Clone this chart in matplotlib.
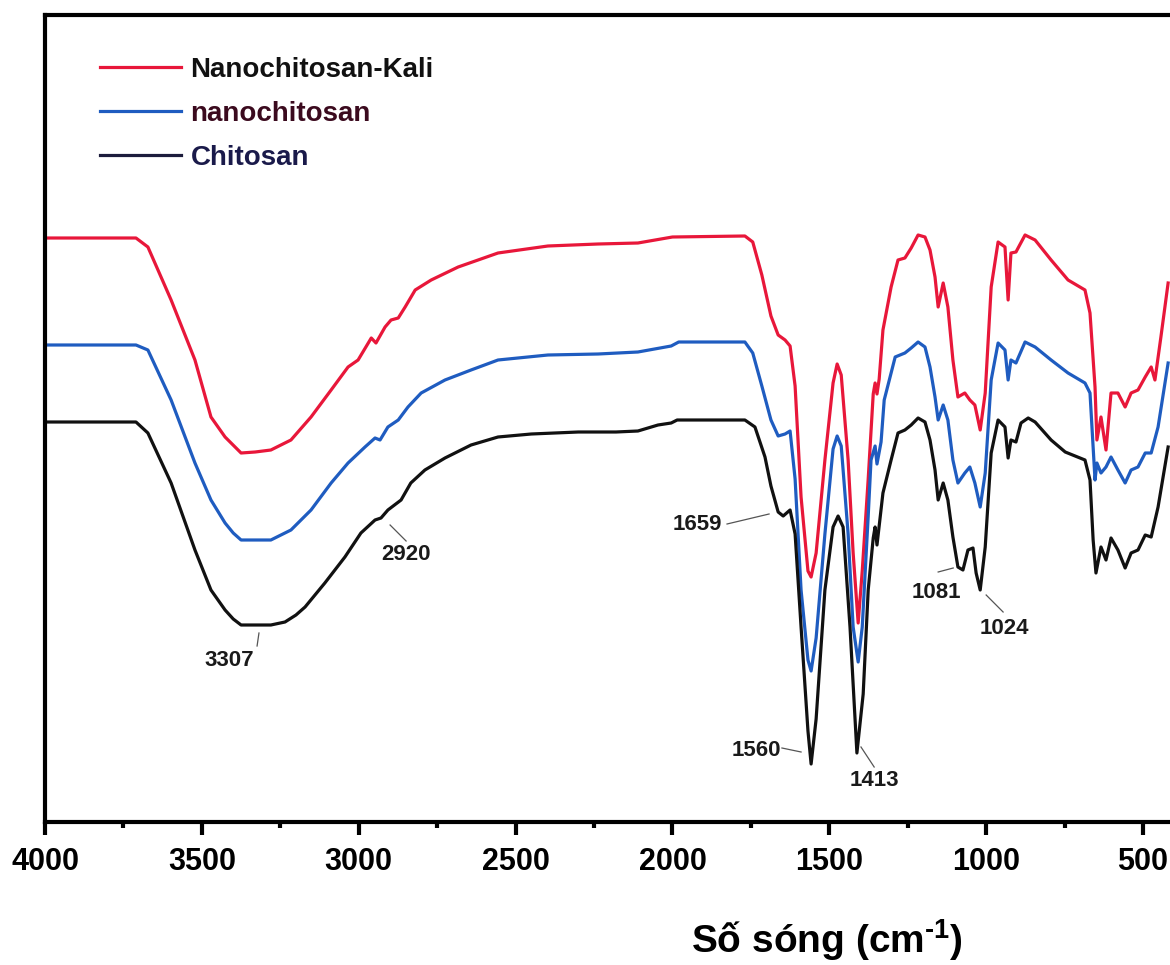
import numpy as np
import matplotlib
matplotlib.use("Agg")
import matplotlib.pyplot as plt

plt.rcParams['font.family'] = ['Liberation Sans', 'DejaVu Sans']
plt.rcParams['font.weight'] = 'bold'
plt.rcParams['mathtext.fontset'] = 'custom'
plt.rcParams['mathtext.rm'] = 'Liberation Sans:bold'
plt.rcParams['mathtext.default'] = 'rm'

# Chitosan (black)
wn_chitosan = [4000, 3710, 3672, 3598, 3522, 3471, 3426, 3400, 3375, 3280,
               3235, 3200, 3171, 3108, 3044, 2993, 2948, 2929, 2907, 2865,
               2834, 2789, 2725, 2642, 2556, 2450, 2300, 2180, 2110, 2046,
               2004, 1985, 1973, 1769, 1737, 1705, 1686, 1663, 1647, 1625,
               1609, 1590, 1568, 1558, 1542, 1514, 1488, 1472, 1456, 1434,
               1412, 1392, 1376, 1360, 1354, 1348, 1329, 1303, 1281, 1259,
               1239, 1217, 1195, 1179, 1163, 1153, 1137, 1122, 1106, 1090,
               1074, 1058, 1042, 1032, 1019, 1003, 984, 962, 940, 930,
               921, 905, 889, 866, 844, 793, 748, 685, 669, 659,
               650, 634, 618, 602, 580, 557, 538, 516, 493, 474,
               452, 420]
t_chitosan = [40.0, 40.0, 38.9, 33.9, 27.2, 23.2, 21.2, 20.3, 19.7, 19.7,
              20.0, 20.7, 21.5, 23.9, 26.5, 28.9, 30.2, 30.4, 31.2, 32.2,
              33.9, 35.2, 36.4, 37.7, 38.5, 38.8, 39.0, 39.0, 39.1, 39.7,
              39.9, 40.2, 40.2, 40.2, 39.5, 36.5, 33.6, 31.0, 30.6, 31.2,
              28.8, 19.5, 9.1, 5.8, 10.3, 23.2, 29.5, 30.6, 29.5, 19.5,
              6.9, 12.8, 23.2, 28.4, 29.5, 27.7, 32.9, 36.2, 38.9, 39.2,
              39.7, 40.4, 40.0, 38.2, 35.2, 32.2, 33.9, 32.2, 28.5, 25.5,
              25.2, 27.2, 27.4, 24.9, 23.2, 27.5, 36.9, 40.2, 39.5, 36.4,
              38.2, 38.0, 39.9, 40.4, 40.0, 38.2, 37.0, 36.2, 34.2, 28.2,
              24.9, 27.5, 26.2, 28.4, 27.2, 25.4, 26.9, 27.2, 28.7, 28.5,
              31.5, 37.5]

# nanochitosan (blue)
wn_nano = [4000, 3710, 3672, 3598, 3522, 3471, 3426, 3400, 3375, 3280,
           3216, 3152, 3088, 3034, 2980, 2948, 2932, 2907, 2874, 2843,
           2801, 2725, 2642, 2556, 2397, 2237, 2110, 2004, 1980, 1769,
           1744, 1715, 1686, 1663, 1641, 1625, 1609, 1590, 1568, 1558,
           1542, 1514, 1488, 1475, 1462, 1440, 1424, 1408, 1395, 1376,
           1367, 1354, 1348, 1335, 1325, 1303, 1290, 1259, 1239, 1217,
           1195, 1179, 1163, 1153, 1137, 1122, 1106, 1090, 1068, 1052,
           1036, 1019, 1003, 984, 962, 940, 930, 921, 905, 876,
           844, 793, 739, 685, 669, 653, 647, 634, 618, 602,
           580, 557, 538, 516, 493, 474, 452, 420]
t_nano = [47.7, 47.7, 47.2, 42.2, 35.9, 32.2, 29.9, 28.9, 28.2, 28.2,
          29.2, 31.2, 33.9, 35.9, 37.5, 38.4, 38.2, 39.5, 40.2, 41.5,
          42.9, 44.2, 45.2, 46.2, 46.7, 46.8, 47.0, 47.6, 48.0, 48.0,
          46.9, 43.6, 40.2, 38.6, 38.8, 39.1, 34.3, 23.2, 16.2, 15.1,
          18.4, 28.8, 37.3, 38.6, 37.6, 28.8, 19.5, 16.0, 19.5, 30.6,
          36.2, 37.6, 35.8, 38.0, 42.2, 44.9, 46.5, 46.9, 47.4, 48.0,
          47.5, 45.5, 42.5, 40.2, 41.7, 40.2, 36.2, 33.9, 34.9, 35.5,
          33.9, 31.5, 34.9, 44.2, 47.9, 47.2, 44.2, 46.2, 45.9, 48.0,
          47.5, 46.2, 44.9, 43.9, 42.9, 34.2, 35.9, 34.9, 35.5, 36.5,
          35.2, 33.9, 35.2, 35.5, 36.9, 36.9, 39.5, 45.9]

# Nanochitosan-Kali (red)
wn_kali = [4000, 3710, 3672, 3598, 3522, 3471, 3426, 3375, 3330, 3280,
           3216, 3152, 3088, 3034, 3002, 2960, 2945, 2916, 2897, 2874,
           2852, 2820, 2769, 2683, 2556, 2397, 2237, 2110, 2000, 1769,
           1744, 1715, 1686, 1663, 1641, 1625, 1609, 1590, 1568, 1558,
           1542, 1514, 1488, 1475, 1462, 1440, 1424, 1408, 1395, 1376,
           1360, 1354, 1348, 1341, 1329, 1303, 1281, 1259, 1239, 1217,
           1195, 1179, 1163, 1153, 1137, 1122, 1106, 1090, 1068, 1052,
           1036, 1019, 1003, 984, 962, 940, 930, 921, 905, 876,
           844, 793, 739, 685, 669, 653, 647, 634, 618, 602,
           580, 557, 538, 516, 493, 474, 462, 443, 420]
t_kali = [58.4, 58.4, 57.5, 52.2, 46.2, 40.5, 38.5, 36.9, 37.0, 37.2,
          38.2, 40.5, 43.2, 45.5, 46.2, 48.4, 47.9, 49.5, 50.2, 50.4,
          51.5, 53.2, 54.2, 55.5, 56.9, 57.6, 57.8, 57.9, 58.5, 58.6,
          58.0, 54.7, 50.6, 48.7, 48.2, 47.6, 43.6, 32.5, 25.1, 24.5,
          26.9, 36.2, 43.9, 45.8, 44.7, 36.2, 26.9, 19.9, 25.1, 34.3,
          42.8, 43.9, 42.8, 44.3, 49.2, 53.5, 56.2, 56.4, 57.4, 58.7,
          58.5, 57.2, 54.5, 51.5, 53.9, 51.5, 46.2, 42.5, 42.9, 42.2,
          41.7, 39.2, 42.9, 53.5, 58.0, 57.5, 52.2, 56.9, 57.0, 58.7,
          58.2, 56.2, 54.2, 53.2, 50.9, 43.5, 38.2, 40.5, 37.2, 42.9,
          42.9, 41.5, 42.9, 43.2, 44.5, 45.5, 44.2, 48.5, 53.9]

# peak labels: text, text position, leader line (start, end)
peak_labels = ["3307", "2920", "1659", "1560", "1413", "1081", "1024"]
peak_text_xy = [(3413, 16.2), (2849, 26.7), (1842, 29.7), (1654, 7.2),
                (1357, 4.1), (1160, 23.0), (943, 19.4)]
peak_text_ha = ["center", "center", "right", "right", "center", "center", "center"]
peak_leaders = [((3318, 18.9), (3324, 17.6)), ((2900, 29.7), (2849, 28.1)),
                ((1826, 29.8), (1692, 30.8)), ((1651, 7.4), (1590, 7.0)),
                ((1399, 7.5), (1357, 5.5)), ((1153, 25.0), (1105, 25.4)),
                ((1000, 22.7), (946, 21.0))]

fig = plt.figure(figsize=(11.7, 9.65), dpi=100)
ax = fig.add_axes([45/1170, 1 - 822/965, 1 - 45/1170, (822 - 15)/965])

l_kali, = ax.plot(wn_kali, t_kali, color="#e8173a", lw=2.3, label="Nanochitosan-Kali")
l_nano, = ax.plot(wn_nano, t_nano, color="#1f5cc0", lw=2.3, label="nanochitosan")
l_ch, = ax.plot(wn_chitosan, t_chitosan, color="#111111", lw=2.3, label="Chitosan")

for lab, (tx, ty), ha, (p0, p1) in zip(peak_labels, peak_text_xy, peak_text_ha, peak_leaders):
    ax.plot([p0[0], p1[0]], [p0[1], p1[1]], color="#555555", lw=0.9)
    ax.text(tx, ty, lab, ha=ha, va="center", fontsize=16, fontweight="bold", color="#1a1a1a")

ax.set_xlim(4000, 414)
ax.set_ylim(0, 80.7)
ax.set_xticks([4000, 3500, 3000, 2500, 2000, 1500, 1000, 500])
ax.set_xticks(np.arange(3750, 400, -500), minor=True)
ax.set_yticks([])
ax.tick_params(axis="x", which="major", direction="out", length=9, width=3,
               labelsize=22, pad=9)
ax.tick_params(axis="x", which="minor", direction="out", length=4, width=3)
for lbl in ax.get_xticklabels():
    lbl.set_fontweight("bold")
for side in ["left", "bottom", "top"]:
    ax.spines[side].set_linewidth(3)
ax.spines["right"].set_visible(False)

ax.set_xlabel(r"Số sóng (cm$^{\text{-}1}$)", fontsize=28, fontweight="bold", va="top")
ax.xaxis.set_label_coords(0.695, -0.118)

leg = ax.legend(handles=[l_kali, l_nano, l_ch], loc="upper left",
                bbox_to_anchor=(0.0489, 0.948), frameon=False,
                prop={"size": 20, "weight": "bold"}, handlelength=2.9,
                handletextpad=0.36, labelspacing=0.65, borderpad=0, borderaxespad=0)
leg.get_lines()[2].set_color("#1c1c3c")
for txt, c in zip(leg.get_texts(), ["#111111", "#3b0a1e", "#1a1a4a"]):
    txt.set_color(c)

fig.savefig("out.png", dpi=100)
